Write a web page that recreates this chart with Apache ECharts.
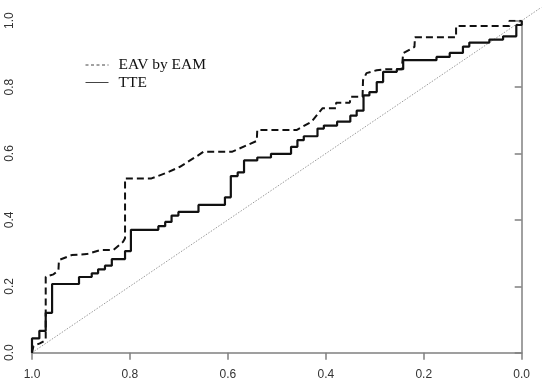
<!DOCTYPE html>
<html>
<head>
<meta charset="utf-8">
<script src="https://cdn.jsdelivr.net/npm/echarts@6.0.0/dist/echarts.min.js"></script>
<style>
html,body{margin:0;padding:0;background:#fff;}
#chart{width:550px;height:385px;}
</style>
</head>
<body>
<div id="chart"></div>
<script>
// ---- data ----
var seriesNames = ['EAV by EAM', 'TTE'];
var xTicks = [0, 0.2, 0.4, 0.6, 0.8, 1.0];
var yTicks = [0, 0.2, 0.4, 0.6, 0.8, 1.0];

// EAV by EAM (dashed): specificity (x, reversed axis) and sensitivity (y)
var eavSpec = [1.000, 0.997, 0.984, 0.972, 0.972, 0.956, 0.946, 0.945, 0.919, 0.888, 0.861, 0.834, 0.814, 0.810, 0.810,
               0.756, 0.725, 0.698, 0.660, 0.650, 0.592, 0.541, 0.540, 0.459, 0.429, 0.407, 0.379, 0.379, 0.351, 0.349,
               0.325, 0.324, 0.317, 0.296, 0.276, 0.245, 0.242, 0.219, 0.218, 0.134, 0.134, 0.025, 0.025, 0.000];
var eavSens = [0.000, 0.020, 0.028, 0.038, 0.229, 0.236, 0.249, 0.279, 0.294, 0.297, 0.309, 0.309, 0.334, 0.345, 0.525,
               0.525, 0.542, 0.560, 0.595, 0.605, 0.605, 0.638, 0.671, 0.671, 0.696, 0.736, 0.736, 0.753, 0.753, 0.771,
               0.771, 0.821, 0.842, 0.851, 0.854, 0.854, 0.902, 0.921, 0.950, 0.950, 0.984, 0.984, 1.000, 1.000];

// TTE (solid) step curve vertices
var tteSpec = [1.000, 1.000, 0.985, 0.985, 0.972, 0.972, 0.959, 0.959, 0.904, 0.904, 0.878, 0.878, 0.865, 0.865, 0.851, 0.851,
               0.837, 0.837, 0.810, 0.810, 0.798, 0.798, 0.742, 0.742, 0.728, 0.728, 0.715, 0.715, 0.701, 0.701, 0.660, 0.660,
               0.606, 0.606, 0.594, 0.594, 0.580, 0.580, 0.567, 0.567, 0.540, 0.540, 0.512, 0.512, 0.471, 0.471, 0.458, 0.458,
               0.445, 0.445, 0.417, 0.417, 0.404, 0.404, 0.377, 0.377, 0.350, 0.350, 0.337, 0.337, 0.323, 0.323, 0.311, 0.311,
               0.296, 0.296, 0.283, 0.283, 0.255, 0.255, 0.242, 0.242, 0.174, 0.174, 0.147, 0.147, 0.120, 0.120, 0.107, 0.107,
               0.066, 0.066, 0.038, 0.038, 0.011, 0.011, 0.000, 0.000];
var tteSens = [0.000, 0.043, 0.043, 0.066, 0.066, 0.120, 0.120, 0.207, 0.207, 0.228, 0.228, 0.239, 0.239, 0.251, 0.251, 0.262,
               0.262, 0.282, 0.282, 0.306, 0.306, 0.370, 0.370, 0.381, 0.381, 0.394, 0.394, 0.413, 0.413, 0.424, 0.424, 0.445,
               0.445, 0.468, 0.468, 0.532, 0.532, 0.543, 0.543, 0.579, 0.579, 0.588, 0.588, 0.599, 0.599, 0.620, 0.620, 0.640,
               0.640, 0.652, 0.652, 0.675, 0.675, 0.684, 0.684, 0.696, 0.696, 0.714, 0.714, 0.729, 0.729, 0.775, 0.775, 0.785,
               0.785, 0.815, 0.815, 0.846, 0.846, 0.854, 0.854, 0.881, 0.881, 0.891, 0.891, 0.903, 0.903, 0.922, 0.922, 0.934,
               0.934, 0.943, 0.943, 0.953, 0.953, 0.987, 0.987, 1.000];

// chance diagonal (extends slightly past the top-right corner, as in the reference)
var diagSpec = [1.0, -0.04];
var diagSens = [0.0, 1.04];

function zip(a, b) { return a.map(function (v, i) { return [v, b[i]]; }); }

var chart = echarts.init(document.getElementById('chart'), null, { renderer: 'canvas' });

var axisFont = { fontFamily: 'Liberation Sans, Arial, sans-serif', fontSize: 12, color: '#333' };
var axisLineStyle = { color: '#808080', width: 1.5 };

chart.setOption({
  animation: false,
  backgroundColor: '#ffffff',
  grid: [
    { left: 32, right: 28.3, top: 20.7, bottom: 32.3 },
    { left: 32, width: 509.3, bottom: 32.3, height: 345.3 }
  ],
  xAxis: [
    {
      gridIndex: 0, type: 'value', min: 0, max: 1, interval: 0.2, inverse: true, offset: 1.5,
      axisLine: { show: true, lineStyle: axisLineStyle },
      axisTick: { show: true, length: 7, lineStyle: axisLineStyle, customValues: xTicks },
      axisLabel: Object.assign({ margin: 14, customValues: xTicks,
        formatter: function (v) { return v.toFixed(1); } }, axisFont),
      splitLine: { show: false }
    },
    {
      gridIndex: 1, type: 'value', min: -0.04, max: 1, inverse: true, show: false
    }
  ],
  yAxis: [
    {
      gridIndex: 0, type: 'value', min: 0, max: 1, interval: 0.2, offset: 1.5,
      axisLine: { show: true, lineStyle: axisLineStyle },
      axisTick: { show: true, length: 7, lineStyle: axisLineStyle, customValues: yTicks },
      axisLabel: Object.assign({ margin: 15, rotate: 90, customValues: yTicks,
        formatter: function (v) { return v.toFixed(1); } }, axisFont),
      splitLine: { show: false }
    },
    {
      gridIndex: 1, type: 'value', min: 0, max: 1.04, show: false
    }
  ],
  legend: {
    orient: 'vertical',
    left: 80, top: 52,
    itemWidth: 23, itemHeight: 14, itemGap: 1.5,
    textStyle: { fontFamily: 'Liberation Serif, Times New Roman, serif', fontSize: 15.5, lineHeight: 14, color: '#111', padding: [0, 0, 0, 5] },
    data: [
      { name: seriesNames[0], itemStyle: { opacity: 0 }, lineStyle: { width: 1, type: [3, 2.5], color: '#444' } },
      { name: seriesNames[1], itemStyle: { opacity: 0 }, lineStyle: { width: 1, type: 'solid', color: '#444' } }
    ]
  },
  series: [
    {
      name: 'diag', type: 'line', xAxisIndex: 1, yAxisIndex: 1,
      data: zip(diagSpec, diagSens), showSymbol: false, silent: true,
      lineStyle: { color: '#9a9a9a', width: 1, type: [1.5, 1.5] }, z: 1
    },
    {
      name: seriesNames[0], type: 'line', data: zip(eavSpec, eavSens), showSymbol: false, symbol: 'none',
      lineStyle: { color: '#111', width: 2, type: [7, 4] }, itemStyle: { color: '#111' }, z: 3
    },
    {
      name: seriesNames[1], type: 'line', data: zip(tteSpec, tteSens), showSymbol: false, symbol: 'none',
      lineStyle: { color: '#111', width: 2.2, type: 'solid' }, itemStyle: { color: '#111' }, z: 3
    }
  ]
});
</script>
</body>
</html>
